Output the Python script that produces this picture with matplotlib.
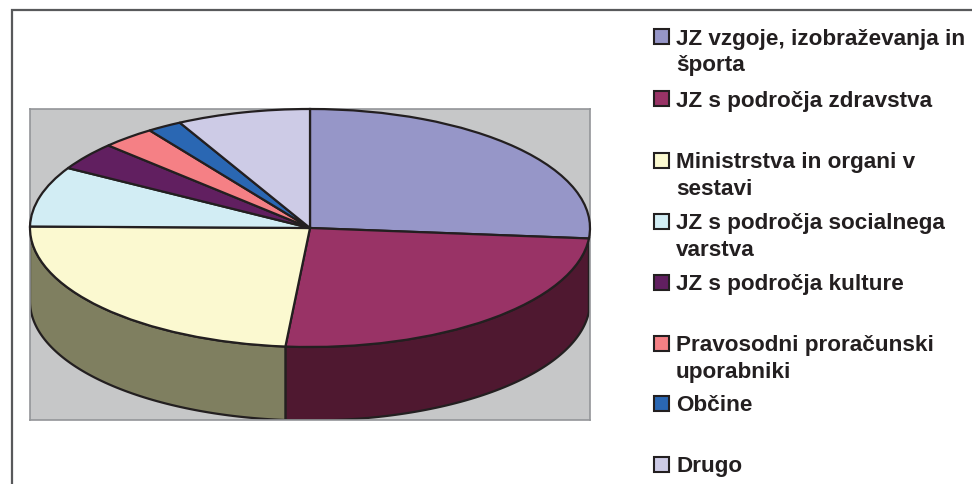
import numpy as np
import matplotlib
matplotlib.use("Agg")
import matplotlib.pyplot as plt
from matplotlib.patches import Polygon, Rectangle

categories = ["JZ vzgoje, izobraževanja in\nšporta", "JZ s področja zdravstva",
              "Ministrstva in organi v\nsestavi", "JZ s področja socialnega\nvarstva",
              "JZ s področja kulture", "Pravosodni proračunski\nuporabniki", "Občine", "Drugo"]
values = [26.4, 25.0, 23.8, 8.2, 3.8, 3.1, 2.0, 7.7]
colors = ["#9696C8", "#993366", "#FBF9D0", "#D2EDF4", "#611F60", "#F58085", "#2A67B3", "#CDCBE6"]
side_colors = ["#4B4B64", "#4F1830", "#7F7F60", "#69767A", "#300F30", "#7A4042", "#14335A", "#666573"]
legend_y = [38, 100, 162, 223, 284, 345, 405, 466]

W, H = 972, 485
EDGE = "#231F20"
plt.rcParams["font.family"] = ["Liberation Sans", "DejaVu Sans"]
fig = plt.figure(figsize=(W / 100, H / 100), dpi=100, facecolor="white")

# page axes in pixel coordinates: frame and legend
page = fig.add_axes([0, 0, 1, 1])
page.set_xlim(0, W)
page.set_ylim(H, 0)
page.axis("off")
page.plot([12, 12, W], [H, 11, 11], color="#58595B", lw=1.6, solid_joinstyle="miter")
for label, color, y in zip(categories, colors, legend_y):
    page.add_patch(Rectangle((653.5, y - 8), 15, 15, facecolor=color, edgecolor=EDGE, lw=1.5))
    page.text(676, y - 9.5, label, fontsize=16.2, fontweight="bold", color=EDGE,
              va="top", ha="left", linespacing=1.37)

# pie axes: unit circle squeezed into the ellipse, on a grey plot area
x0, x1, y0, y1 = 29.5, 590, 109.5, 420.5
cx, cy, rx, ry, depth = 310, 229, 280, 119, 73.5
ax = fig.add_axes([x0 / W, 1 - y1 / H, (x1 - x0) / W, (y1 - y0) / H])
ax.set_zorder(2)
ax.set_facecolor("#C6C7C8")
wedges, _ = ax.pie(values, colors=colors, startangle=90, counterclock=False,
                   wedgeprops=dict(edgecolor=EDGE, linewidth=1.6), radius=1, frame=True)
for w in wedges:
    w.set_zorder(3)
ax.set_aspect("auto")
ax.set_xlim((x0 - cx) / rx, (x1 - cx) / rx)
ax.set_ylim((cy - y1) / ry, (cy - y0) / ry)
ax.set_xticks([])
ax.set_yticks([])
for s in ax.spines.values():
    s.set_color("#939598")
    s.set_linewidth(1.2)

# side wall of the pie, visible only for the lower half of the ellipse
d = depth / ry
edges = np.concatenate([[0], np.cumsum(values)]) / np.sum(values) * 2 * np.pi
for a, b, c in zip(edges[:-1], edges[1:], side_colors):
    a2, b2 = max(a, np.pi / 2), min(b, 3 * np.pi / 2)
    if b2 <= a2:
        continue
    t = np.linspace(a2, b2, 80)
    xs, ys = np.sin(t), np.cos(t)
    pts = np.r_[np.c_[xs, ys], np.c_[xs[::-1], ys[::-1] - d]]
    ax.add_patch(Polygon(pts, closed=True, facecolor=c, edgecolor=EDGE, lw=1.6, zorder=2))

fig.savefig("out.png", dpi=100, facecolor="white")
